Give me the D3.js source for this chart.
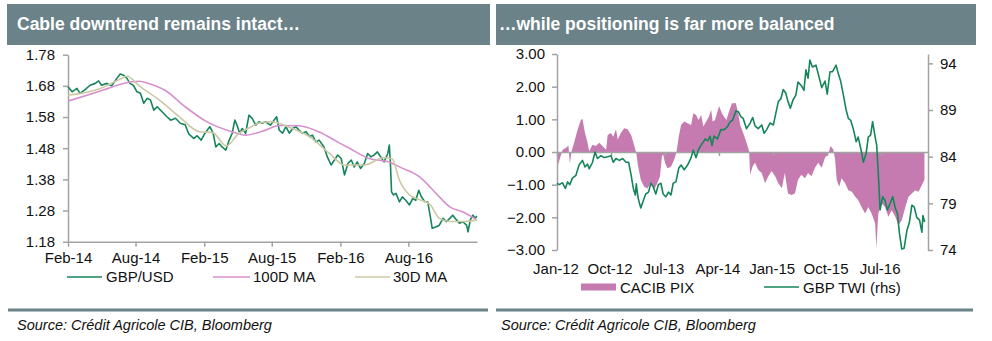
<!DOCTYPE html>
<html><head><meta charset="utf-8">
<script src="https://cdn.jsdelivr.net/npm/d3@7"></script>
<style>
body{margin:0;background:#fff;}
svg{display:block;font-family:"Liberation Sans",Arial,sans-serif;}
</style></head>
<body><svg id="c" width="992" height="341"></svg>
<script>
// ---------- DATA: left panel ----------
const leftTitle = "Cable downtrend remains intact…";
const rightTitle = "…while positioning is far more balanced";
const sourceText = "Source: Crédit Agricole CIB, Bloomberg";
const leftTicksY = [1.18,1.28,1.38,1.48,1.58,1.68,1.78];
const leftTicksX = ["2014-02-01","2014-08-01","2015-02-01","2015-08-01","2016-02-01","2016-08-01"];
const leftLegend = ["GBP/USD","100D MA","30D MA"];
const gbpusd = [
["2014-02-01",1.677],["2014-02-12",1.661],["2014-02-25",1.672],["2014-03-05",1.656],["2014-03-18",1.667],
["2014-04-01",1.682],["2014-04-15",1.688],["2014-04-24",1.696],["2014-05-02",1.682],["2014-05-16",1.688],
["2014-05-29",1.680],["2014-06-12",1.704],["2014-06-21",1.718],["2014-06-30",1.714],["2014-07-09",1.704],
["2014-07-17",1.688],["2014-07-26",1.682],["2014-08-05",1.661],["2014-08-14",1.656],["2014-08-23",1.624],
["2014-09-01",1.640],["2014-09-10",1.635],["2014-09-19",1.602],["2014-09-28",1.613],["2014-10-11",1.597],
["2014-10-24",1.581],["2014-11-03",1.570],["2014-11-16",1.576],["2014-11-29",1.560],["2014-12-12",1.555],
["2014-12-21",1.527],["2015-01-04",1.511],["2015-01-13",1.520],["2015-01-24",1.506],["2015-02-03",1.528],
["2015-02-16",1.549],["2015-02-25",1.528],["2015-03-04",1.484],["2015-03-13",1.495],["2015-03-21",1.484],
["2015-03-31",1.474],["2015-04-09",1.506],["2015-04-17",1.528],["2015-04-24",1.570],["2015-04-30",1.554],
["2015-05-07",1.528],["2015-05-14",1.543],["2015-05-23",1.528],["2015-06-01",1.586],["2015-06-10",1.575],
["2015-06-19",1.554],["2015-06-28",1.565],["2015-07-06",1.560],["2015-07-15",1.565],["2015-07-29",1.554],
["2015-08-07",1.570],["2015-08-14",1.581],["2015-08-21",1.538],["2015-08-30",1.528],["2015-09-08",1.549],
["2015-09-17",1.528],["2015-09-26",1.543],["2015-10-05",1.549],["2015-10-13",1.538],["2015-10-22",1.528],
["2015-11-01",1.533],["2015-11-10",1.517],["2015-11-18",1.522],["2015-11-27",1.500],["2015-12-06",1.506],
["2015-12-19",1.484],["2015-12-28",1.452],["2016-01-07",1.426],["2016-01-16",1.442],["2016-01-25",1.458],
["2016-02-03",1.447],["2016-02-12",1.394],["2016-02-21",1.431],["2016-03-01",1.442],["2016-03-09",1.420],
["2016-03-17",1.436],["2016-03-26",1.415],["2016-04-05",1.431],["2016-04-14",1.463],["2016-04-23",1.452],
["2016-05-01",1.458],["2016-05-10",1.468],["2016-05-19",1.452],["2016-05-28",1.436],["2016-06-07",1.463],
["2016-06-11",1.490],["2016-06-14",1.431],["2016-06-17",1.340],["2016-06-22",1.330],["2016-06-29",1.335],
["2016-07-08",1.308],["2016-07-16",1.324],["2016-07-25",1.313],["2016-08-04",1.298],["2016-08-13",1.319],
["2016-08-21",1.313],["2016-08-29",1.345],["2016-09-05",1.324],["2016-09-14",1.308],["2016-09-22",1.308],
["2016-09-29",1.260],["2016-10-04",1.223],["2016-10-15",1.228],["2016-10-23",1.233],["2016-11-02",1.255],
["2016-11-11",1.244],["2016-11-20",1.255],["2016-11-28",1.265],["2016-12-08",1.250],["2016-12-16",1.239],
["2016-12-25",1.244],["2017-01-04",1.233],["2017-01-08",1.212],["2017-01-14",1.250],["2017-01-21",1.265],
["2017-01-27",1.255],["2017-02-01",1.262]
];
const ma100 = [
["2014-02-01",1.631],["2014-04-25",1.662],["2014-07-22",1.693],["2014-08-11",1.695],["2014-09-07",1.687],
["2014-10-19",1.666],["2014-12-12",1.613],["2015-02-05",1.567],["2015-04-16",1.533],["2015-05-23",1.522],
["2015-07-16",1.538],["2015-08-20",1.553],["2015-10-13",1.552],["2015-12-06",1.532],["2016-01-29",1.497],
["2016-02-25",1.480],["2016-04-18",1.447],["2016-06-11",1.436],["2016-07-08",1.420],["2016-08-31",1.388],
["2016-10-23",1.324],["2016-11-20",1.292],["2016-12-24",1.276],["2017-02-01",1.250]
];
const ma30 = [
["2014-02-01",1.650],["2014-04-25",1.670],["2014-06-18",1.700],["2014-07-09",1.711],["2014-08-11",1.680],
["2014-10-04",1.634],["2014-11-27",1.580],["2015-01-19",1.533],["2015-02-24",1.530],["2015-04-01",1.487],
["2015-05-05",1.528],["2015-06-01",1.545],["2015-06-28",1.561],["2015-08-02",1.565],["2015-09-17",1.547],
["2015-11-10",1.517],["2016-01-02",1.464],["2016-02-12",1.426],["2016-04-05",1.426],["2016-05-28",1.450],
["2016-06-19",1.445],["2016-07-08",1.378],["2016-08-04",1.330],["2016-08-31",1.315],["2016-09-28",1.300],
["2016-10-23",1.255],["2016-11-20",1.245],["2016-12-29",1.245],["2017-02-01",1.250]
];

// ---------- DATA: right panel ----------
const rightTicksL = [-3,-2,-1,0,1,2,3];
const rightTicksR = [74,79,84,89,94];
const rightTicksX = ["2012-01-01","2012-10-01","2013-07-01","2014-04-01","2015-01-01","2015-10-01","2016-07-01"];
const rightLegend = ["CACIB PIX","GBP TWI (rhs)"];
const pix = [
["2012-01-01",-0.10],["2012-01-06",-0.40],["2012-01-29",0.07],["2012-02-15",0.12],["2012-02-28",0.20],
["2012-03-06",-0.35],["2012-03-16",0.05],["2012-03-27",0.27],["2012-04-14",0.67],["2012-05-01",0.98],
["2012-05-09",1.02],["2012-05-22",0.58],["2012-06-04",0.28],["2012-06-12",0.02],["2012-06-29",0.22],
["2012-07-16",0.18],["2012-08-02",0.28],["2012-08-19",0.18],["2012-09-06",0.07],["2012-09-14",0.52],
["2012-10-01",0.58],["2012-10-12",0.47],["2012-10-26",0.70],["2012-11-04",0.38],["2012-11-21",0.60],
["2012-12-07",0.73],["2012-12-24",0.70],["2013-01-11",0.52],["2013-01-27",0.18],["2013-02-06",-0.02],
["2013-02-14",-0.40],["2013-03-01",-0.86],["2013-03-18",-1.06],["2013-04-04",-1.12],["2013-04-21",-0.95],
["2013-05-07",-1.16],["2013-05-24",-0.95],["2013-06-06",-0.75],["2013-06-16",-0.13],["2013-06-22",-0.08],
["2013-07-02",-0.34],["2013-07-14",-0.50],["2013-08-01",-0.45],["2013-08-17",-0.24],["2013-08-29",0.00],
["2013-09-09",0.47],["2013-09-21",0.83],["2013-10-07",0.93],["2013-10-24",0.88],["2013-11-11",0.83],
["2013-11-22",1.19],["2013-12-06",1.13],["2013-12-19",0.98],["2014-01-01",1.13],["2014-01-12",0.78],
["2014-01-26",0.93],["2014-02-09",1.08],["2014-02-21",1.29],["2014-02-28",0.93],["2014-03-12",0.98],
["2014-04-02",1.41],["2014-04-16",1.19],["2014-04-27",1.08],["2014-05-09",0.98],["2014-05-19",1.19],
["2014-06-06",1.49],["2014-06-26",1.49],["2014-07-09",1.13],["2014-07-18",0.83],["2014-08-02",0.58],
["2014-08-19",0.28],["2014-09-01",0.03],["2014-09-06",-0.70],["2014-09-19",-0.44],["2014-10-01",-0.33],
["2014-10-17",-0.54],["2014-11-04",-0.64],["2014-11-21",-0.96],["2014-12-07",-0.74],["2014-12-24",-0.58],
["2015-01-11",-0.74],["2015-01-27",-0.96],["2015-02-14",-1.11],["2015-03-01",-0.64],["2015-03-17",-1.27],
["2015-04-04",-1.32],["2015-04-21",-1.27],["2015-05-07",-0.85],["2015-05-24",-0.70],["2015-06-11",-0.80],
["2015-06-27",-0.64],["2015-07-14",-0.74],["2015-08-01",-0.48],["2015-08-17",-0.33],["2015-09-04",-0.48],
["2015-09-21",-0.17],["2015-10-07",-0.07],["2015-10-19",0.18],["2015-11-02",0.08],["2015-11-11",-0.23],
["2015-11-19",-0.85],["2015-12-02",-1.06],["2015-12-14",-0.80],["2016-01-01",-0.96],["2016-01-17",-1.17],
["2016-02-04",-1.22],["2016-02-21",-1.37],["2016-03-07",-1.47],["2016-03-24",-1.68],["2016-04-11",-1.88],
["2016-04-27",-1.68],["2016-05-14",-1.88],["2016-06-01",-2.19],["2016-06-07",-2.95],["2016-06-17",-1.88],
["2016-07-04",-1.58],["2016-07-21",-1.68],["2016-08-07",-1.98],["2016-08-24",-1.78],["2016-09-11",-1.98],
["2016-09-27",-2.24],["2016-10-14",-2.09],["2016-11-01",-1.68],["2016-11-17",-1.37],["2016-12-04",-1.27],
["2016-12-21",-1.17],["2017-01-07",-1.22],["2017-01-24",-1.01],["2017-02-06",-0.85]
];
const twi = [
["2012-01-01",81.15],["2012-01-12",81.0],["2012-01-29",81.2],["2012-02-12",80.6],["2012-02-24",81.3],
["2012-03-06",81.0],["2012-03-19",81.7],["2012-04-06",82.0],["2012-04-22",83.1],["2012-05-09",83.6],
["2012-05-22",82.9],["2012-06-04",83.2],["2012-06-12",82.7],["2012-06-29",83.4],["2012-07-12",84.5],
["2012-07-24",83.8],["2012-08-11",84.1],["2012-08-27",83.9],["2012-09-14",84.0],["2012-10-01",84.1],
["2012-10-12",83.4],["2012-10-26",83.8],["2012-11-12",83.6],["2012-11-29",83.8],["2012-12-16",83.4],
["2012-12-29",83.4],["2013-01-11",82.0],["2013-01-22",80.6],["2013-02-01",79.9],["2013-02-06",81.1],
["2013-02-14",79.7],["2013-02-22",79.0],["2013-03-01",78.5],["2013-03-12",79.2],["2013-03-26",80.0],
["2013-04-09",80.2],["2013-04-21",81.15],["2013-05-02",80.8],["2013-05-16",80.0],["2013-05-29",81.0],
["2013-06-11",81.15],["2013-06-22",80.0],["2013-07-06",79.7],["2013-07-19",80.2],["2013-08-01",79.9],
["2013-08-12",81.15],["2013-08-26",81.3],["2013-09-09",82.75],["2013-09-21",83.1],["2013-10-07",82.6],
["2013-10-24",83.1],["2013-11-11",83.9],["2013-11-22",84.7],["2013-12-06",83.9],["2013-12-19",84.8],
["2014-01-06",85.4],["2014-01-22",85.9],["2014-02-04",85.7],["2014-02-15",86.2],["2014-02-25",85.2],
["2014-03-07",86.2],["2014-03-24",85.9],["2014-04-11",86.9],["2014-04-27",86.9],["2014-05-14",87.2],
["2014-05-26",87.7],["2014-06-09",87.9],["2014-06-26",88.9],["2014-07-09",88.8],["2014-07-21",88.3],
["2014-08-02",88.1],["2014-08-19",87.0],["2014-09-06",87.6],["2014-09-19",88.2],["2014-10-01",87.3],
["2014-10-17",87.0],["2014-11-04",87.4],["2014-11-16",86.5],["2014-11-29",86.9],["2014-12-16",87.6],
["2015-01-02",87.4],["2015-01-16",88.8],["2015-01-27",89.9],["2015-02-09",90.2],["2015-02-21",91.2],
["2015-03-06",90.8],["2015-03-17",89.9],["2015-03-29",89.2],["2015-04-12",90.1],["2015-04-26",90.6],
["2015-05-07",92.0],["2015-05-24",91.6],["2015-06-06",91.1],["2015-06-16",93.3],["2015-06-27",92.4],
["2015-07-06",94.35],["2015-07-19",93.6],["2015-08-06",93.8],["2015-08-22",92.5],["2015-09-04",91.4],
["2015-09-21",92.1],["2015-10-02",90.7],["2015-10-16",93.1],["2015-10-29",93.1],["2015-11-16",93.8],
["2015-11-27",92.9],["2015-12-09",92.1],["2015-12-22",90.7],["2016-01-06",89.0],["2016-01-17",88.1],
["2016-01-29",87.9],["2016-02-12",86.9],["2016-02-26",85.6],["2016-03-07",86.1],["2016-03-24",84.5],
["2016-04-02",83.4],["2016-04-16",84.3],["2016-04-27",86.1],["2016-05-09",86.3],["2016-05-19",87.75],
["2016-06-01",86.1],["2016-06-09",85.2],["2016-06-17",82.2],["2016-06-26",78.3],["2016-07-09",79.7],
["2016-07-21",79.3],["2016-08-02",78.3],["2016-08-16",79.0],["2016-08-29",79.7],["2016-09-11",78.5],
["2016-09-22",77.9],["2016-10-02",75.8],["2016-10-14",74.1],["2016-10-26",74.2],["2016-11-09",76.1],
["2016-11-22",77.0],["2016-12-04",78.8],["2016-12-16",78.6],["2016-12-29",77.5],["2017-01-12",77.2],
["2017-01-24",75.9],["2017-01-29",77.7],["2017-02-07",77.0]
];

// ---------- DRAW ----------
const parse = d3.timeParse("%Y-%m-%d");
const svg = d3.select("#c");
const C = {bar:"#6a8288", green:"#16855a", pink:"#d88fcf", beige:"#cdc8a4", area:"#c57bb0", axis:"#a3a3a3", text:"#111"};
const FS = 15;

function header(x, w, tx, title){
  svg.append("rect").attr("x",x).attr("y",4).attr("width",w).attr("height",41).attr("fill",C.bar);
  svg.append("text").attr("x",tx).attr("y",30).attr("fill","#fff").attr("font-weight","bold")
     .attr("font-size",17.5).text(title);
}
function footer(x, w, tx){
  svg.append("rect").attr("x",x).attr("y",308.5).attr("width",w).attr("height",3).attr("fill",C.bar);
  svg.append("text").attr("x",tx).attr("y",330).attr("font-style","italic").attr("font-size",14.5)
     .attr("fill",C.text).text(sourceText);
}
function styleAxis(g){
  g.select(".domain").attr("stroke",C.axis).attr("stroke-width",1.5);
  g.selectAll(".tick line").attr("stroke",C.axis).attr("stroke-width",1.5);
  g.selectAll(".tick text").attr("fill",C.text).attr("font-size",FS);
  g.attr("font-family",null);
}

header(7, 483, 17, leftTitle);
header(496, 480, 499, rightTitle);
footer(8, 480, 17);
footer(496, 477, 501);

// Left chart
const xL = d3.scaleTime().domain([parse("2014-02-01"), parse("2017-02-01")]).range([68, 477]);
const yL = d3.scaleLinear().domain([1.18, 1.78]).range([241.7, 54.7]);
const gLy = svg.append("g").attr("transform","translate(68,0)")
  .call(d3.axisLeft(yL).tickValues(leftTicksY).tickFormat(d3.format(".2f")).tickSize(5).tickSizeOuter(0).tickPadding(8));
styleAxis(gLy);
const gLx = svg.append("g").attr("transform","translate(0,241.7)")
  .call(d3.axisBottom(xL).tickValues(leftTicksX.map(parse)).tickFormat(d3.timeFormat("%b-%y")).tickSize(5).tickSizeOuter(0).tickPadding(6));
styleAxis(gLx);

const lineL = d3.line().x(d=>xL(parse(d[0]))).y(d=>yL(d[1]));
svg.append("path").datum(gbpusd).attr("d",lineL).attr("fill","none").attr("stroke",C.green).attr("stroke-width",1.6).attr("stroke-linejoin","round");
svg.append("path").datum(ma100).attr("d",lineL.curve(d3.curveMonotoneX)).attr("fill","none").attr("stroke",C.pink).attr("stroke-width",1.6);
svg.append("path").datum(ma30).attr("d",lineL.curve(d3.curveMonotoneX)).attr("fill","none").attr("stroke",C.beige).attr("stroke-width",1.6);

// Left legend
const legL = [[67,102,106,C.green],[213,250,253,C.pink],[355,390,393,C.beige]];
legL.forEach((p,i)=>{
  svg.append("line").attr("x1",p[0]).attr("x2",p[1]).attr("y1",277).attr("y2",277).attr("stroke",p[3]).attr("stroke-width",1.6);
  svg.append("text").attr("x",p[2]).attr("y",282).attr("font-size",FS).attr("fill",C.text).text(leftLegend[i]);
});

// Right chart
const xR = d3.scaleTime().domain([parse("2012-01-01"), parse("2017-03-01")]).range([557, 929]);
const yR = d3.scaleLinear().domain([-3, 3]).range([250, 54]);
const yR2 = d3.scaleLinear().domain([74, 95]).range([250, 54]);

const area = d3.area().x(d=>xR(parse(d[0]))).y0(yR(0)).y1(d=>yR(d[1]));
svg.append("path").datum(pix).attr("d",area).attr("fill",C.area);

const gRx = svg.append("g").attr("transform",`translate(0,${yR(0)})`)
  .call(d3.axisBottom(xR).tickValues(rightTicksX.map(parse)).tickFormat("").tickSize(4).tickSizeOuter(0));
styleAxis(gRx);
gRx.select(".domain").attr("d", `M557,0.5H929`);
svg.append("g").selectAll("text").data(rightTicksX).join("text")
  .attr("x",d=>xR(parse(d))-1).attr("y",274).attr("text-anchor","middle").attr("font-size",FS).attr("fill",C.text)
  .text(d=>d3.timeFormat("%b-%y")(parse(d)));

const gRl = svg.append("g").attr("transform","translate(557,0)")
  .call(d3.axisLeft(yR).tickValues(rightTicksL).tickFormat(d3.format(".2f")).tickSize(5).tickSizeOuter(0).tickPadding(7));
styleAxis(gRl);
const gRr = svg.append("g").attr("transform","translate(928,0)")
  .call(d3.axisRight(yR2).tickValues(rightTicksR).tickSize(5).tickSizeOuter(0).tickPadding(7));
styleAxis(gRr);

const lineR = d3.line().x(d=>xR(parse(d[0]))).y(d=>yR2(d[1]));
svg.append("path").datum(twi).attr("d",lineR).attr("fill","none").attr("stroke",C.green).attr("stroke-width",1.6).attr("stroke-linejoin","round");

// Right legend
svg.append("rect").attr("x",581).attr("y",283.5).attr("width",35).attr("height",7).attr("fill",C.area);
svg.append("text").attr("x",620).attr("y",292.5).attr("font-size",FS).attr("fill",C.text).text(rightLegend[0]);
svg.append("line").attr("x1",764).attr("x2",799).attr("y1",287).attr("y2",287).attr("stroke",C.green).attr("stroke-width",1.6);
svg.append("text").attr("x",803).attr("y",292.5).attr("font-size",FS).attr("fill",C.text).text(rightLegend[1]);
</script></body></html>
